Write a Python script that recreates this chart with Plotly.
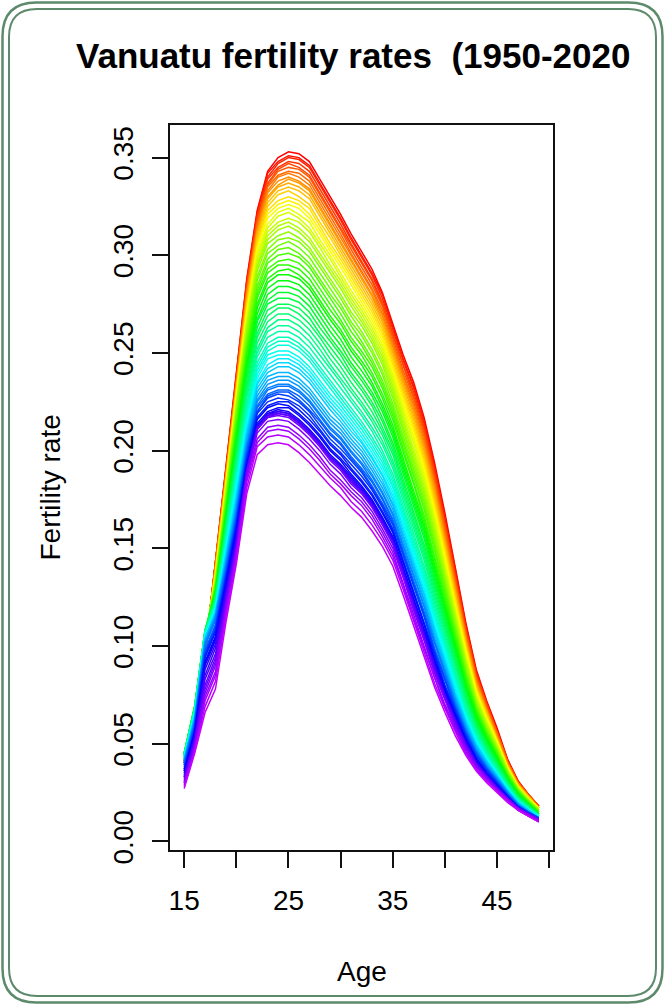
import colorsys
import plotly.graph_objects as go

# ---------------- data (fertility rate per woman, in thousandths) ----------------
ages = list(range(15, 50))
years = list(range(1950, 2021))
x_tick_values = [15, 20, 25, 30, 35, 40, 45, 50]
x_tick_labels = ["15", "", "25", "", "35", "", "45", ""]
y_tick_values = [0.00, 0.05, 0.10, 0.15, 0.20, 0.25, 0.30, 0.35]

rates_permille = [
    [40,63,95,143,190,238,288,323,343,350,353,352,348,339,330,321,311,302,293,281,265,249,235,217,194,168,140,112,88,72,58,42,31,24,18],
    [40,63,95,143,190,237,287,322,342,348,351,350,346,337,328,319,309,300,291,280,263,247,233,215,192,166,139,111,87,71,57,42,31,24,18],
    [40,63,96,142,189,237,285,320,340,347,350,349,345,336,327,318,308,299,290,278,262,246,232,214,191,165,137,110,86,71,57,41,31,24,18],
    [41,64,96,142,189,236,285,320,339,345,348,347,343,334,325,316,306,297,288,276,260,244,230,212,189,163,136,109,86,70,56,41,30,24,18],
    [41,64,97,141,188,236,284,318,337,344,347,345,341,332,323,314,305,296,287,275,259,243,228,210,188,162,135,108,85,70,56,41,30,24,18],
    [41,64,97,141,188,236,283,317,336,343,345,344,340,331,322,313,303,294,285,274,258,241,227,209,186,161,134,107,84,69,56,41,30,24,18],
    [41,64,97,141,188,235,281,316,335,341,343,342,338,329,320,311,301,292,283,272,256,239,225,207,184,159,132,106,83,68,55,40,30,23,17],
    [41,64,98,140,187,234,281,314,333,340,342,340,336,327,318,309,300,291,282,270,254,238,223,205,183,157,131,105,82,68,54,40,30,23,17],
    [42,65,98,140,187,234,280,313,332,338,340,338,334,325,316,307,298,289,280,269,253,236,221,203,181,156,130,104,82,67,54,40,29,23,17],
    [42,65,99,139,186,233,278,312,330,336,339,337,333,324,315,306,297,288,279,267,251,235,220,202,180,154,128,103,81,67,53,39,29,23,17],
    [42,65,99,139,186,233,277,311,329,335,337,335,331,322,313,304,295,286,277,266,250,233,218,200,178,153,127,102,80,66,53,39,29,23,17],
    [42,65,100,138,185,232,276,309,327,333,335,333,329,320,311,302,293,284,275,264,248,231,216,198,176,151,126,101,79,65,52,39,29,23,17],
    [42,65,100,138,184,231,274,307,325,331,333,330,326,317,309,300,291,282,273,262,246,229,214,196,174,150,124,100,78,65,52,38,29,23,17],
    [43,66,101,137,183,230,273,305,323,328,330,328,324,315,306,298,289,280,271,260,244,227,212,194,172,148,123,99,78,64,52,38,28,22,17],
    [43,66,101,137,182,229,271,304,321,326,328,326,321,313,304,296,287,278,269,258,242,225,210,192,170,146,121,98,77,63,51,38,28,22,17],
    [43,66,102,136,182,228,270,303,319,324,326,324,319,311,302,294,285,276,267,256,241,224,208,190,169,145,120,97,76,63,51,38,28,22,17],
    [43,66,102,135,181,226,268,301,316,322,324,321,317,308,300,291,282,274,265,254,239,222,206,188,167,143,119,95,75,62,50,37,28,22,16],
    [43,66,103,135,180,225,266,299,314,320,322,319,314,306,298,289,280,272,263,252,237,220,204,186,165,141,117,94,74,61,50,37,28,22,16],
    [44,67,103,134,179,224,265,297,312,317,319,317,312,304,295,287,278,270,261,250,235,218,202,184,163,139,116,93,74,60,49,37,27,21,16],
    [44,67,104,134,178,223,264,295,310,315,317,314,309,301,293,285,276,268,259,248,233,216,200,182,161,138,114,92,73,60,48,36,27,21,16],
    [44,67,104,133,177,222,262,294,308,313,315,312,307,299,291,283,274,266,257,246,231,214,198,180,159,136,113,91,72,59,48,36,27,21,16],
    [44,67,104,132,176,220,260,292,306,310,312,309,304,296,288,280,271,264,255,244,229,212,196,178,157,134,112,90,71,58,47,36,27,21,16],
    [44,67,105,132,175,219,258,289,303,308,309,307,302,294,286,278,269,261,252,241,227,210,194,176,155,132,110,89,70,58,47,35,26,21,16],
    [44,68,105,131,174,217,256,287,301,305,307,304,299,291,283,275,266,259,250,239,224,207,191,174,153,131,109,87,69,57,46,35,26,20,15],
    [44,68,106,131,173,215,254,284,298,303,304,301,296,288,280,273,264,256,247,236,222,205,189,172,151,129,107,86,68,56,46,34,26,20,15],
    [45,68,106,130,172,214,252,282,296,300,301,299,294,286,278,270,261,254,245,234,220,203,187,170,149,127,106,85,68,56,45,34,26,20,15],
    [45,68,106,129,170,212,250,280,293,297,298,296,291,283,275,267,258,251,243,232,218,201,185,167,146,125,104,84,67,55,44,34,25,20,15],
    [45,68,107,129,169,210,249,278,291,295,295,293,288,280,272,265,256,249,240,229,216,199,183,165,144,123,103,83,66,54,44,33,25,20,15],
    [45,69,107,128,168,208,246,275,288,292,293,290,285,277,269,262,253,246,238,227,213,196,180,163,142,122,101,81,65,53,43,33,25,19,14],
    [45,69,108,128,167,207,244,273,286,290,290,288,283,275,267,260,251,244,235,224,211,194,178,161,140,120,100,80,64,53,43,32,24,19,14],
    [45,69,108,127,166,205,242,270,283,287,287,285,280,272,264,257,248,241,233,222,209,192,176,159,138,118,98,79,63,52,42,32,24,19,14],
    [45,69,108,126,165,203,241,267,280,284,284,282,277,269,261,254,245,238,230,220,207,190,174,157,136,116,97,78,62,51,41,32,24,19,14],
    [45,69,108,126,164,201,238,266,277,281,281,279,274,266,258,251,243,236,228,217,204,188,172,155,134,115,95,77,61,50,41,31,23,19,14],
    [45,68,108,125,162,200,236,263,275,278,278,276,271,263,256,249,240,233,225,215,202,185,169,152,132,113,94,75,60,50,40,31,23,18,14],
    [45,68,108,125,161,198,233,260,272,275,275,273,268,260,253,246,238,231,223,212,200,183,167,150,130,111,92,74,59,49,40,30,23,18,14],
    [44,68,107,124,160,196,231,258,269,273,273,270,265,258,250,243,235,228,220,210,198,181,165,148,128,110,91,73,59,48,39,30,23,18,14],
    [44,68,107,123,159,194,229,255,266,270,270,267,262,255,247,240,232,225,217,208,195,179,163,146,126,108,89,72,58,47,38,30,22,18,13],
    [44,68,107,123,158,192,227,252,263,267,267,264,259,252,244,237,230,223,215,205,193,177,161,144,124,106,88,71,57,46,38,29,22,18,13],
    [44,67,107,122,156,191,224,250,261,264,264,261,256,249,242,235,227,220,212,203,191,174,158,141,122,104,86,69,56,46,37,29,22,17,13],
    [44,67,107,122,155,189,222,248,258,261,261,258,253,246,239,232,225,218,210,200,188,172,156,139,120,103,85,68,55,45,37,28,21,17,13],
    [44,67,107,121,154,187,220,245,255,258,258,255,250,243,236,229,222,215,207,198,186,170,154,137,118,101,83,67,54,44,36,28,21,17,13],
    [44,66,106,120,153,185,218,243,253,256,256,253,248,241,234,227,220,213,205,196,184,168,152,135,116,100,82,66,53,43,36,28,21,17,13],
    [43,66,106,120,152,184,216,241,251,254,254,251,246,239,232,225,218,211,203,194,182,166,150,134,115,98,81,65,53,43,35,27,21,17,13],
    [43,66,106,119,150,182,215,239,249,251,251,248,243,236,229,223,216,209,201,192,181,165,149,132,114,97,80,64,52,43,35,27,20,16,13],
    [43,65,105,119,149,180,213,237,247,249,249,246,241,234,227,221,214,207,199,190,179,163,147,131,112,95,79,63,51,42,34,27,20,16,13],
    [42,64,104,118,148,178,211,235,244,247,247,244,239,232,225,219,212,205,197,188,177,161,145,129,110,94,77,62,50,41,34,26,20,16,12],
    [42,64,104,117,147,177,210,234,242,245,245,242,237,230,223,217,210,204,196,187,175,159,143,127,109,93,76,62,50,41,34,26,20,16,12],
    [42,64,104,117,146,175,208,232,240,243,243,240,235,228,221,215,208,202,194,185,173,157,141,126,108,91,75,61,49,41,33,26,20,16,12],
    [42,63,103,116,144,173,207,230,238,240,240,237,232,225,218,213,206,200,192,183,172,156,140,124,106,90,74,60,48,40,33,26,19,15,12],
    [41,62,102,116,143,172,205,228,236,238,238,235,230,223,216,211,204,198,190,181,170,154,138,123,104,88,73,59,48,39,32,25,19,15,12],
    [41,62,102,115,142,170,203,226,234,236,236,233,228,221,214,209,202,196,188,179,168,152,136,121,103,87,72,58,47,39,32,25,19,15,12],
    [40,61,101,114,141,169,202,225,232,234,234,231,226,219,212,207,200,194,187,178,167,151,135,120,102,86,71,57,46,38,32,25,19,15,12],
    [40,60,100,113,140,167,201,223,231,233,233,230,225,218,211,206,199,193,185,176,165,149,133,118,101,85,70,57,46,38,31,24,19,15,12],
    [39,60,98,111,138,166,200,222,229,231,231,228,223,216,209,204,197,191,184,175,164,148,132,117,99,84,69,56,45,37,31,24,18,15,12],
    [39,59,97,110,137,165,198,220,228,230,230,226,221,215,208,203,196,190,182,173,163,147,131,116,98,83,68,55,45,37,30,24,18,15,12],
    [38,58,96,109,136,164,197,220,227,229,228,225,220,213,206,201,195,189,181,172,162,146,130,115,97,82,68,55,44,37,30,24,18,15,12],
    [37,57,95,108,135,162,196,219,225,227,226,223,218,211,204,199,193,187,180,171,160,144,128,113,96,80,67,54,43,36,30,23,18,14,11],
    [37,56,94,107,134,161,194,217,223,225,225,221,216,210,203,198,191,185,178,169,159,143,127,112,95,79,66,53,43,35,29,23,18,14,11],
    [36,56,92,105,132,160,193,216,222,224,223,219,214,208,201,196,190,184,177,168,158,142,126,111,93,78,65,52,42,35,29,23,17,14,11],
    [36,55,91,104,131,158,192,214,220,222,222,218,213,207,200,195,188,182,175,166,156,140,124,109,92,77,64,52,42,34,28,22,17,14,11],
    [35,54,90,103,130,157,191,213,219,221,220,216,211,205,198,193,187,181,174,165,155,139,123,108,91,76,63,51,41,34,28,22,17,14,11],
    [34,53,88,101,128,156,191,212,219,220,219,215,210,204,197,192,186,180,173,164,154,138,122,107,90,75,62,51,41,34,28,22,17,14,11],
    [33,52,85,99,127,154,190,212,218,220,219,215,210,204,197,192,185,180,173,164,154,138,121,106,89,75,62,50,40,34,28,22,17,14,11],
    [33,52,83,96,125,153,190,211,218,219,218,214,209,203,196,191,185,179,172,163,153,137,121,106,89,74,61,50,40,33,27,22,17,14,11],
    [32,51,80,94,124,151,189,211,217,219,218,214,209,203,196,191,184,179,172,163,153,137,120,105,88,74,61,49,39,33,27,22,17,14,11],
    [31,50,78,92,122,150,189,211,217,218,217,213,208,202,195,190,183,178,171,162,152,136,119,104,87,73,60,49,39,33,27,22,17,14,11],
    [30,49,76,90,121,149,187,209,215,216,215,211,206,200,193,188,181,176,169,160,150,135,118,103,86,72,59,48,39,33,27,22,17,14,11],
    [30,48,74,87,118,147,186,206,212,213,212,208,203,197,190,185,179,174,167,158,148,132,116,101,84,70,58,47,38,32,26,21,17,14,11],
    [29,47,72,85,117,146,184,204,210,211,210,206,201,195,188,183,177,172,165,156,146,131,114,99,83,69,57,46,37,31,26,21,16,13,10],
    [28,46,69,82,115,144,181,202,207,208,207,203,198,192,186,181,174,169,162,154,144,129,113,98,81,68,56,45,37,31,26,21,16,13,10],
    [27,45,66,78,112,142,178,198,203,204,203,199,194,188,182,177,171,166,159,151,141,126,110,95,79,66,54,44,36,30,25,20,16,13,10],
]
rates = [[v / 1000 for v in row] for row in rates_permille]

# ---------------- styling ----------------
W, H = 665, 1005
ML, MR, MT, MB = 170, 112, 125, 155
PW, PH = W - ML - MR, H - MT - MB
FONT = "Liberation Sans, Arial, Helvetica, sans-serif"
FRAME = "#5e8a6c"


def px(x):
    return (x - ML) / PW


def py(y):
    return (H - MB - y) / PH


# R-style rainbow palette: rainbow(n * 1.25), first n colours
n_pal = int(len(years) * 1.25)
colors = []
for i in range(len(years)):
    r, g, b = colorsys.hsv_to_rgb(i / n_pal, 1.0, 1.0)
    colors.append("#%02x%02x%02x" % (round(r * 255), round(g * 255), round(b * 255)))

fig = go.Figure()
for yr, row, col in zip(years, rates, colors):
    fig.add_trace(go.Scatter(
        x=ages, y=row, mode="lines", name=str(yr),
        line=dict(color=col, width=1.5), showlegend=False, hoverinfo="skip",
    ))


def rounded_rect(x0, y0, x1, y1, r):
    a0, a1 = px(x0), px(x1)
    b0, b1 = py(y0), py(y1)
    rx, ry = r / PW, r / PH
    return (f"M {a0 + rx},{b0} L {a1 - rx},{b0} Q {a1},{b0} {a1},{b0 - ry} "
            f"L {a1},{b1 + ry} Q {a1},{b1} {a1 - rx},{b1} "
            f"L {a0 + rx},{b1} Q {a0},{b1} {a0},{b1 + ry} "
            f"L {a0},{b0 - ry} Q {a0},{b0} {a0 + rx},{b0} Z")


shapes = [
    dict(type="path", xref="paper", yref="paper", layer="above",
         path=rounded_rect(2.5, 2.5, 662.5, 1002.5, 34), line=dict(color=FRAME, width=2.5)),
    dict(type="path", xref="paper", yref="paper", layer="above",
         path=rounded_rect(9, 9, 656, 996, 28), line=dict(color=FRAME, width=2)),
]

annotations = [
    dict(text="<b>Vanuatu fertility rates\u00a0 (1950-2020</b>", xref="paper", yref="paper",
         x=px(74), y=py(55), xanchor="left", yanchor="middle", showarrow=False,
         font=dict(family=FONT, size=35, color="black")),
    dict(text="Age", xref="paper", yref="paper", x=px(361.5), y=py(971),
         xanchor="center", yanchor="middle", showarrow=False,
         font=dict(family=FONT, size=28, color="black")),
    dict(text="Fertility rate", xref="paper", yref="paper", x=px(50), y=py(487.5),
         xanchor="center", yanchor="middle", textangle=-90, showarrow=False,
         font=dict(family=FONT, size=28, color="black")),
]

fig.update_layout(
    width=W, height=H,
    margin=dict(l=ML, r=MR, t=MT, b=MB, pad=0),
    paper_bgcolor="white", plot_bgcolor="white",
    shapes=shapes, annotations=annotations,
    font=dict(family=FONT, color="black"),
    xaxis=dict(
        range=[13.64, 50.36], tickmode="array", tickvals=x_tick_values, ticktext=x_tick_labels,
        ticks="outside", ticklen=16, tickwidth=2, tickcolor="#111",
        showline=True, mirror=True, linecolor="#111", linewidth=2,
        showgrid=False, zeroline=False, tickfont=dict(family=FONT, size=28, color="black"),
        ticklabelstandoff=8,
    ),
    yaxis=dict(
        range=[-0.0044, 0.3667], tickmode="array", tickvals=y_tick_values, tickformat=".2f",
        tickangle=-90, ticks="outside", ticklen=16, tickwidth=2, tickcolor="#111",
        showline=True, mirror=True, linecolor="#111", linewidth=2,
        showgrid=False, zeroline=False, tickfont=dict(family=FONT, size=28, color="black"),
        ticklabelstandoff=8,
    ),
)

fig.write_html("out.html")
